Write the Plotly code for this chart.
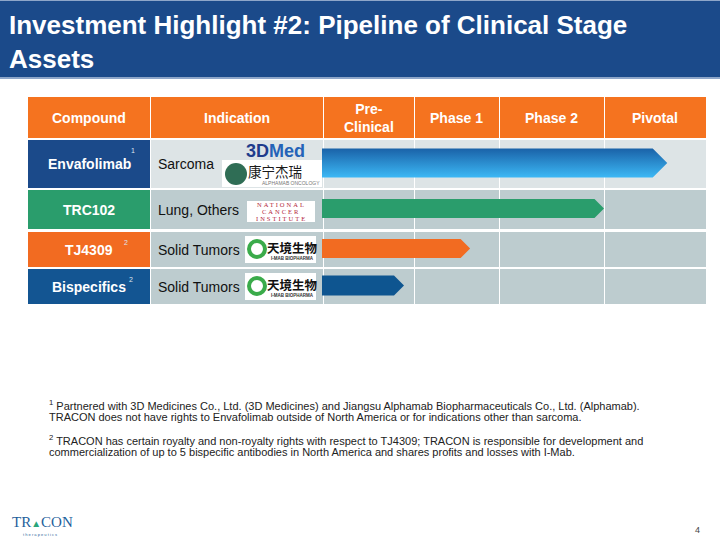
"""Pipeline slide: Investment Highlight #2."""
import numpy as np
import plotly.graph_objects as go

# ---- data -------------------------------------------------------------
compounds = ["Envafolimab", "TRC102", "TJ4309", "Bispecifics"]
compound_notes = ["1", "", "2", "2"]
indications = ["Sarcoma", "Lung, Others", "Solid Tumors", "Solid Tumors"]
header_labels = ["Compound", "Indication", "Pre-<br>Clinical", "Phase 1",
                 "Phase 2", "Pivotal"]
# how far each asset has advanced, in phases (0 = start of pre-clinical)
progress = [3.62, 3.0, 1.66, 0.89]
footnote_lines = [
    "<sup>1</sup> Partnered with 3D Medicines Co., Ltd. (3D Medicines) and Jiangsu "
    "Alphamab Biopharmaceuticals Co., Ltd. (Alphamab).",
    "TRACON does not have rights to Envafolimab outside of North America or for "
    "indications other than sarcoma.",
    "<sup>2</sup> TRACON has certain royalty and non-royalty rights with respect to "
    "TJ4309; TRACON is responsible for development and",
    "commercialization of up to 5 bispecific antibodies in North America and shares "
    "profits and losses with I-Mab.",
]
title = "Investment Highlight #2: Pipeline of Clinical Stage<br>Assets"

# ---- layout / style ---------------------------------------------------
FONT = "Liberation Sans, Arial, sans-serif"
col_edges = [28, 150, 323, 414, 499, 604, 706]
phase_edges = col_edges[2:]
header_band = (97, 138)
row_bands = [(140, 188), (190, 229), (232, 267), (269, 304)]
bar_heights = [29, 19, 19, 20]
compound_colors = ["#1b4a8a", "#2a9d6c", "#f26b21", "#135592"]
bar_colors = [None, "#2a9d6c", "#f26b21", "#0e5590"]
row_fill = ["#dde4e6", "#bdcccf", "#bdcccf", "#bdcccf"]
note_x = [133, None, 126, 131]
ORANGE = "#f5731f"

fig = go.Figure()
shapes = []
ann = []


def rect(x0, y0, x1, y1, color, **kw):
    shapes.append(dict(type="rect", xref="x", yref="y", x0=x0, y0=y0,
                       x1=x1, y1=y1, fillcolor=color, line_width=0,
                       layer="below", **kw))


def text(x, y, s, size=13, color="#000", xanchor="center", family=FONT, **kw):
    ann.append(dict(x=x, y=y, xref="x", yref="y", text=s, showarrow=False,
                    xanchor=xanchor, yanchor="middle",
                    font=dict(family=family, size=size, color=color), **kw))


# title bar
rect(0, 0, 720, 78, "#1b4a8a")
rect(0, 0, 720, 1, "#8ea6c9")
rect(0, 77, 720, 79, "#8ea6c9")
text(7, 42, "<b>" + title + "</b>", size=26, color="white", xanchor="left",
     align="left")

# header row
for i, lab in enumerate(header_labels):
    x0, x1 = col_edges[i], col_edges[i + 1]
    rect(x0 + (1 if i else 0), header_band[0], x1, header_band[1], ORANGE)
    text((x0 + x1) / 2, sum(header_band) / 2, "<b>" + lab + "</b>",
         size=14, color="white")

# body rows
for r, (y0, y1) in enumerate(row_bands):
    rect(col_edges[0], y0, col_edges[1], y1, compound_colors[r])
    rect(col_edges[1] + 1, y0, col_edges[2], y1, row_fill[r])
    for c in range(2, 6):
        rect(col_edges[c] + 1, y0, col_edges[c + 1], y1, row_fill[r])
    yc = (y0 + y1) / 2
    text((col_edges[0] + col_edges[1]) / 2, yc, "<b>" + compounds[r] + "</b>",
         size=14, color="white")
    if compound_notes[r]:
        text(note_x[r], y0 + 10, compound_notes[r], size=7, color="#dde6f0")
    text(col_edges[1] + 6, yc, indications[r], size=14, color="#111",
         xanchor="left")

# pipeline arrows
for r, p in enumerate(progress):
    y0, y1 = row_bands[r]
    yc = (y0 + y1) / 2 - 1
    h = bar_heights[r] / 2
    tip = float(np.interp(p, np.arange(len(phase_edges)), phase_edges))
    start = phase_edges[0] - 1
    body = tip - h
    xs = [start, body, tip, body, start, start]
    ys = [yc - h, yc - h, yc, yc + h, yc + h, yc - h]
    tr = dict(x=xs, y=ys, mode="lines", fill="toself", line=dict(width=0),
              hoverinfo="skip", showlegend=False)
    if bar_colors[r] is None:
        tr["fillcolor"] = "#2a8fd6"
        tr["fillgradient"] = dict(type="vertical", start=yc - h, stop=yc + h,
                                  colorscale=[[0, "#1a62a8"], [1, "#3cb8f5"]])
    else:
        tr["fillcolor"] = bar_colors[r]
    fig.add_trace(go.Scatter(**tr))

# partner marks
text(275, 151, "<b>3D<span style='color:#2463b8'>Med</span></b>", size=18,
     color="#1e3c8c")
rect(222, 160, 322, 187, "white")
shapes.append(dict(type="circle", xref="x", yref="y", x0=225, y0=163, x1=247,
                   y1=185, fillcolor="#2f6d55", line_width=0))
text(275, 171, "康宁杰瑞", size=13.5, color="#1a1a1a",
     family="Noto Sans CJK SC")
text(291, 183, "ALPHAMAB ONCOLOGY", size=5, color="#777")
rect(247, 201, 315, 222, "white")
for y, word in zip([204.5, 211.5, 218.5], ["NATIONAL", "CANCER", "INSTITUTE"]):
    text(281, y, "<span style='letter-spacing:2px'>" + word + "</span>",
         size=6.5, color="#b3263a", family="Liberation Serif, serif")
for r in (2, 3):
    y0 = row_bands[r][0] + 4
    rect(245, y0, 316, y0 + 27, "white")
    shapes.append(dict(type="circle", xref="x", yref="y", x0=249, y0=y0 + 5,
                       x1=265, y1=y0 + 21, fillcolor="white",
                       line=dict(color="#3aab4a", width=4)))
    text(292, y0 + 11, "<b>天境生物</b>", size=12.5, color="#111",
         family="Noto Sans CJK SC")
    text(292, y0 + 22, "<b>I-MAB BIOPHARMA</b>", size=4.5, color="#333")

# footnotes
for y, line in zip([405, 417, 440, 452], footnote_lines):
    text(47, y, line, size=11, color="#222", xanchor="left")

# footer
text(10, 522, "TR<span style='color:#2aa57a;font-size:10px'>▲</span>CON",
     size=15, color="#1f5f9c", xanchor="left", family="Liberation Serif, serif")
text(40, 534, "t h e r a p e u t i c s", size=4, color="#1f5f9c")
text(697, 530, "4", size=9, color="#444")

fig.update_layout(
    width=720, height=540, margin=dict(l=0, r=0, t=0, b=0),
    paper_bgcolor="white", plot_bgcolor="white",
    xaxis=dict(range=[0, 720], visible=False, fixedrange=True),
    yaxis=dict(range=[540, 0], visible=False, fixedrange=True),
    shapes=shapes, annotations=ann, showlegend=False,
)
# drop the page's default body margin so the slide sits at the window corner
fig.write_html("out.html", config={"displayModeBar": False},
               post_script="document.body.style.margin='0';"
               "document.body.style.overflow='hidden';")
